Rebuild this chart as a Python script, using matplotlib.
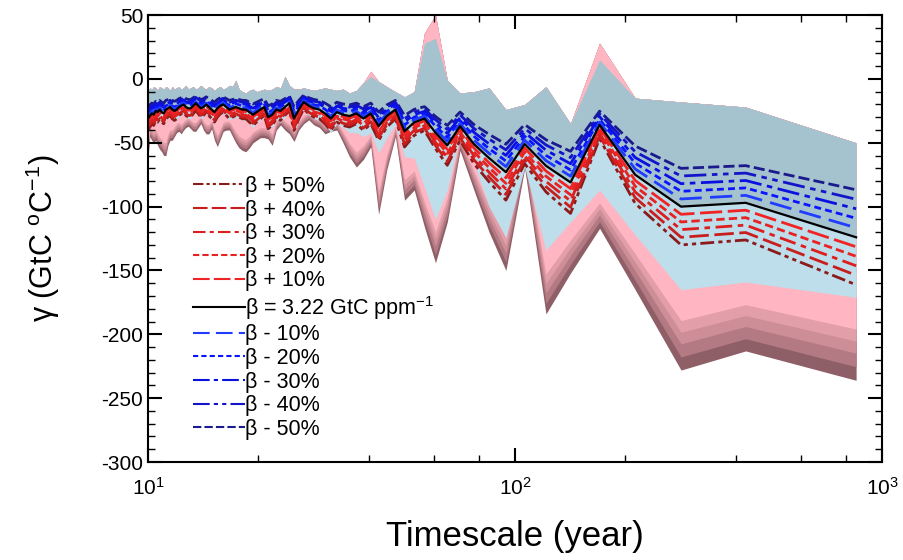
import numpy as np
import matplotlib
matplotlib.use("Agg")
import matplotlib.pyplot as plt
from matplotlib.ticker import MultipleLocator, LogLocator, NullFormatter

plt.rcParams['font.family'] = ['Liberation Sans', 'DejaVu Sans']
plt.rcParams['mathtext.fontset'] = 'custom'
plt.rcParams['mathtext.rm'] = 'Liberation Sans'
plt.rcParams['axes.unicode_minus'] = False

# harmonic periods of the ~850-yr record (k = 85 ... 1)
record_len = 850.0
harmonic = np.arange(85, 0, -1)
period = record_len / harmonic

# reference beta line (black), k = 85 ... 1
gamma_ref = [-31, -29, -27, -28, -25, -26, -24, -26, -27, -24,
             -23, -22, -24, -25, -24, -22, -21, -20, -22, -23,
             -23, -21, -19, -21, -23, -22, -20, -22, -24, -26,
             -23, -21, -20, -22, -24, -23, -22, -23, -24, -24,
             -26, -28, -26, -24, -22, -30, -28, -24, -25, -22,
             -19, -31, -24, -18, -21, -23, -24, -27, -31, -26,
             -28, -29, -27, -31, -27, -37, -29, -24, -41, -34,
             -31, -42, -52, -37, -51, -62, -73, -51, -68, -81,
             -36, -75, -100, -97, -124]

# top of the blue-grey envelope
env_top = [-10, -7, -8, -6, -7, -9, -6, -7, -8, -6,
           -7, -9, -6, -8, -7, -6, -8, -7, -5, -8,
           -7, -6, -8, -7, -5, -7, -8, -6, -7, -9,
           -7, -6, -8, -7, -5, -6, -1, -8, -10, -11,
           -9, -8, -10, -9, -8, -9, -8, -6, -7, 2,
           -5, -8, -8, -7, -8, -9, -8, -7, -8, -9,
           -8, -11, -9, -3, 2, -2, -6, -10, -14, -10,
           28, 32, -1, -11, -10, -7, -24, -20, -6, -35,
           15, -15, -18, -22, -50]

# top of the pink envelope (only differs at the spikes)
pink_peak = list(env_top)
pink_peak[85 - 21] = 6
pink_peak[85 - 15] = 36
pink_peak[85 - 14] = 50
pink_peak[85 - 5] = 28

# upper edge of the pink (lower) envelope
pink_top = [-42, -38, -36, -37, -34, -35, -32, -35, -36, -32,
            -31, -30, -32, -34, -32, -30, -28, -27, -30, -31,
            -31, -28, -26, -28, -31, -30, -27, -30, -32, -35,
            -31, -28, -27, -30, -32, -31, -30, -31, -32, -33,
            -35, -38, -35, -32, -30, -40, -38, -32, -34, -30,
            -26, -42, -32, -25, -28, -31, -33, -36, -42, -35,
            -38, -42, -42, -45, -42, -58, -46, -36, -61, -62,
            -85, -110, -87, -44, -66, -100, -124, -69, -134, -112,
            -87, -122, -165, -159, -171]

# bottom of the darkest pink layer
env_bottom = [-62, -45, -48, -50, -48, -52, -55, -57, -60, -60,
              -52, -48, -48, -45, -42, -41, -43, -40, -38, -37,
              -39, -41, -41, -38, -35, -40, -43, -43, -39, -48,
              -53, -47, -41, -40, -40, -45, -50, -54, -56, -57,
              -54, -50, -48, -46, -46, -47, -52, -40, -36, -40,
              -43, -49, -40, -35, -32, -36, -38, -43, -41, -40,
              -50, -61, -69, -63, -53, -106, -71, -45, -95, -87,
              -116, -144, -112, -56, -87, -120, -150, -70, -184, -152,
              -117, -165, -228, -213, -236]

# sensitivity runs: ratio of each line to the reference line (read at 850 yr)
labels = ['β + 50%', 'β + 40%', 'β + 30%', 'β + 20%', 'β + 10%',
          r'β = 3.22 GtC ppm$\mathregular{^{-1}}$',
          'β - 10%', 'β - 20%', 'β - 30%', 'β - 40%', 'β - 50%']
line_ratio = [1.30, 1.24, 1.18, 1.12, 1.06, 1.00, 0.94, 0.88, 0.82, 0.76, 0.70]
colors = ['#8b1a1a', '#c81e1e', '#dd1e1e', '#e82222', '#f02424', 'black',
          '#1f3cff', '#0a14ff', '#0a10e0', '#1414c8', '#1a1a8c']
styles = [(0, (5, 1.5, 1.5, 1.5, 1.5, 1.5)), (0, (7, 2)), (0, (6, 2, 2, 2)),
          (0, (3, 1.5)), (0, (8, 2)), '-', (0, (8, 3)), (0, (2.5, 1.5)),
          (0, (8, 2, 2, 2)), (0, (8, 2, 2, 2, 2, 2)), (0, (4, 1.5))]

ref = np.array(gamma_ref, float)
ptop = np.array(pink_top, float)
pbot = np.array(env_bottom, float)

fig = plt.figure(figsize=(9.04, 5.6), dpi=100)
ax = fig.add_axes([0.1637, 0.175, 0.812, 0.798])

# pink layers, darkest at the bottom (thin dark rims under a light pink body)
pink_cols = ['#8f5f67', '#b47a83', '#cd8e98', '#e29ea9', '#ffb6c2']
pink_scale = [1.0, 0.955, 0.91, 0.87, 0.83]
for c, s in zip(pink_cols, pink_scale):
    ax.fill_between(period, pink_peak, pbot * s, color=c, lw=0)
ax.fill_between(period, ref, ptop, color='#bddeea', lw=0)
ax.fill_between(period, env_top, ref, color='#a5c3cf', lw=0)

order = [0, 1, 2, 3, 4, 10, 9, 8, 7, 6, 5]
handles = {}
for i in order:
    h, = ax.plot(period, ref * line_ratio[i], color=colors[i], ls=styles[i],
                 lw=2.0 if i != 5 else 1.6, label=labels[i])
    handles[i] = h

leg = ax.legend([handles[i] for i in range(11)], labels, loc='upper left',
                bbox_to_anchor=(0.062, 0.64), frameon=False, fontsize=15.5,
                handlelength=2.4, handletextpad=0.0, labelspacing=0.12,
                borderaxespad=0, borderpad=0)
for h in leg.get_lines():
    h.set_linewidth(1.5)

ax.set_xscale('log')
ax.set_xlim(10, 1000)
ax.set_ylim(-300, 50)
ax.yaxis.set_major_locator(MultipleLocator(50))
ax.yaxis.set_minor_locator(MultipleLocator(10))
ax.xaxis.set_minor_locator(LogLocator(base=10, subs=(2, 4, 6, 8)))
ax.xaxis.set_minor_formatter(NullFormatter())
ax.tick_params(which='both', direction='in', top=True, right=True, labelsize=15)
ax.tick_params(which='major', length=10, width=1.5)
ax.tick_params(which='minor', length=5, width=1.0)
ax.tick_params(axis='x', pad=11)
for s in ax.spines.values():
    s.set_linewidth(1.5)

ax.set_xlabel('Timescale (year)', fontsize=25, labelpad=15)
ax.set_ylabel(r'γ (GtC $\mathregular{^{o}}$C$\mathregular{^{-1}}$)', fontsize=22,
              labelpad=28)

fig.savefig('out.png', dpi=100)
